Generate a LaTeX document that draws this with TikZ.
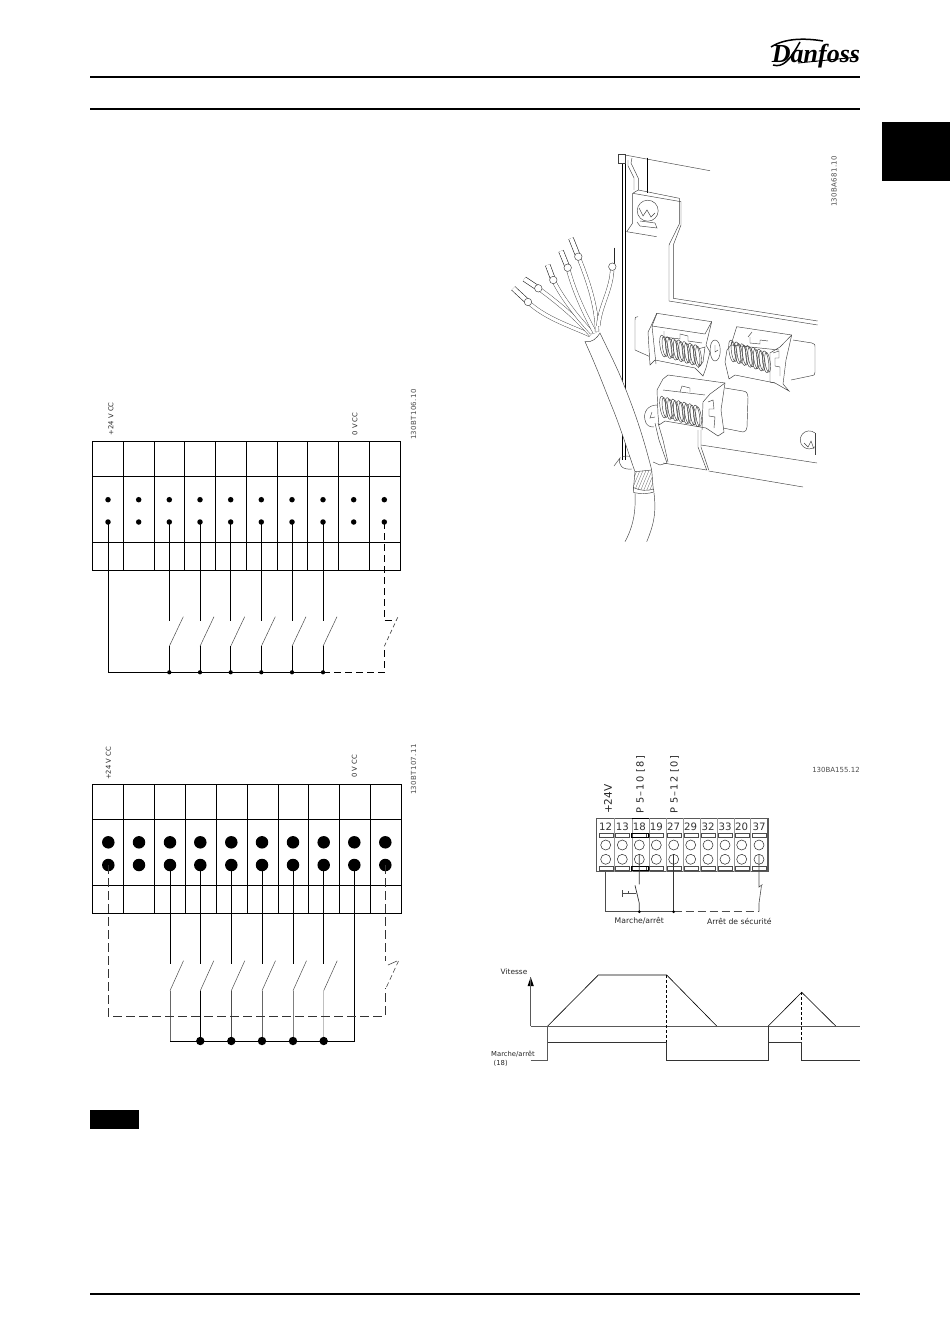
\documentclass[tikz,border=0pt]{standalone}
\usepackage{fontspec}
\setmainfont{DejaVu Sans}
\newfontfamily\logofont{Liberation Serif}
\newfontfamily\spacedfont[LetterSpace=12]{DejaVu Sans}
\newfontfamily\partfont[LetterSpace=5]{DejaVu Sans}
\tikzset{
  wire/.style={line width=0.9pt},
  blade/.style={line width=0.5pt,black!70},
  dashwire/.style={line width=0.9pt,dash pattern=on 7pt off 4pt},
  thinwire/.style={line width=0.6pt,dash pattern=on 9pt off 4pt,black!80},
  smalldot/.style={circle,fill=black,inner sep=0pt,minimum size=5.5pt},
  bigdot/.style={circle,fill=black,inner sep=0pt,minimum size=12.5pt},
  busdot/.style={circle,fill=black,inner sep=0pt,minimum size=4.2pt},
  bigbusdot/.style={circle,fill=black,inner sep=0pt,minimum size=8.4pt},
  screwhole/.style={circle,draw=black!80,line width=0.55pt,inner sep=0pt,minimum size=10pt},
  label/.style={inner sep=0pt,font=\fontsize{6.8}{8}\selectfont,black!85},
  vlabel/.style={label,rotate=90,anchor=west},
  partno/.style={label,font=\partfont\fontsize{7}{8}\selectfont,black!70},
  strip/.style={vlabel,font=\spacedfont\fontsize{9.8}{11}\selectfont},
  etch/.style={line width=0.45pt,black!75},
  core/.style={line width=0.45pt,black!70,double=white,double distance=3.2pt},
  tip/.style={line width=0.6pt,black!85,double=white,double distance=4.2pt},
  collar/.style={circle,draw=black!75,fill=white,line width=0.45pt,inner sep=0pt,minimum size=7.5pt},
  trace/.style={line width=0.6pt,black!65}
}
\begin{document}
\begin{tikzpicture}[x=1pt,y=-1pt]
\useasboundingbox (0,0) rectangle (950,1344);
\draw[line width=1.8pt] (90,77) -- (860,77);
\draw[line width=1.5pt] (90,109) -- (860,109);
\draw[line width=1.6pt] (90,1294) -- (860,1294);
\fill (882,122) rectangle (950,180.7);
\fill (90,1110) rectangle (139.3,1129.3);
% logo
\node[inner sep=0pt,anchor=base] (logo) at (816,62) {\logofont\itshape\bfseries\fontsize{26}{26}\selectfont Danfoss};
\draw[line width=1.5pt] (771,47) .. controls (785,38) and (805,38) .. (823,41);
\draw[line width=1.5pt] (773,65) .. controls (783,68) and (790,60) .. (800,42);
\draw[line width=0.9pt] (798,63) -- (858,57);
% first terminal block
\draw[wire] (92.3,441.7) rectangle (400.3,570.3);
\draw[wire] (92.3,476.3) -- (400.3,476.3) (92.3,542.3) -- (400.3,542.3);
\foreach \x in {123.3,154.3,184.7,215.3,246.3,277.3,307.7,338.3,369.3}
  \draw[wire] (\x,441.7) -- (\x,570.3);
\foreach \nm/\x in {1/108,2/138.7,3/169.3,4/200,5/230.7,6/261.3,7/292,8/323,9/353.7,10/384.3}{
  \node[smalldot] (pa\nm) at (\x,499.7) {};
  \node[smalldot] (pb\nm) at (\x,522) {};
}
\foreach \nm/\x in {3/169.3,4/200,5/230.7,6/261.3,7/292,8/323}{
  \coordinate (pup\nm) at (\x,620.7);
  \coordinate (plo\nm) at (\x,646.3);
  \coordinate (ptp\nm) at (\x+14,616.7);
  \node[busdot] (pbus\nm) at (\x,672.3) {};
  \draw[wire] (pb\nm.center) -- (pup\nm);
  \draw[blade] (plo\nm) -- (ptp\nm);
  \draw[wire] (plo\nm) -- (pbus\nm.center);
}
\coordinate (pcorner) at (108,672.3);
\coordinate (pswup) at (384.3,620.7);
\coordinate (pswlo) at (384.3,646.3);
\coordinate (pswtip) at (398,616.7);
\coordinate (pswtick) at (393,620.7);
\coordinate (pbusend) at (384.3,672.3);
\draw[wire] (pb1.center) -- (pcorner) -- (pbus8.center);
\draw[dashwire] (pb10.center) -- (pswup) -- (pswtick);
\draw[blade,dash pattern=on 4pt off 3pt,line width=0.7pt] (pswlo) -- (pswtip);
\draw[dashwire] (pbus8.center) -- (pbusend) -- (pswlo);
\node[vlabel] (lpos1) at (111,435.5) {+24 V CC};
\node[vlabel] (lzero1) at (355,435.5) {0 V CC};
\node[vlabel,partno] (part1) at (413.5,440) {130BT106.10};
% second terminal block
\draw[wire] (92.3,784.7) rectangle (401.7,913.3);
\draw[wire] (92.3,819.3) -- (401.7,819.3) (92.3,885.3) -- (401.7,885.3);
\foreach \x in {123.3,154.3,185.3,216.3,247.3,278.3,308.3,339.3,370.3}
  \draw[wire] (\x,784.7) -- (\x,913.3);
\foreach \nm/\x in {1/108.3,2/139,3/170,4/200.3,5/231.3,6/262,7/293,8/323.7,9/354.3,10/385.3}{
  \node[bigdot] (qa\nm) at (\x,842.3) {};
  \node[bigdot] (qb\nm) at (\x,865) {};
}
\foreach \nm/\x in {3/170,4/200.3,5/231.3,6/262,7/293,8/323.7}{
  \coordinate (qup\nm) at (\x,964.3);
  \coordinate (qlo\nm) at (\x,990.7);
  \coordinate (qtp\nm) at (\x+13.5,960.7);
  \coordinate (qbus\nm) at (\x,1041);
  \draw[wire] (qb\nm.center) -- (qup\nm);
  \draw[blade] (qlo\nm) -- (qtp\nm);
}
\coordinate (qend) at (354.3,1041);
\draw[wire,black!60] (qlo3) -- (qbus3) -- (qend);
\draw[wire,black!70] (qlo5) -- (qbus5);
\draw[wire,black!60] (qlo6) -- (qbus6);
\draw[wire,black!50] (qlo7) -- (qbus7);
\draw[wire,black!25] (qlo8) -- (qbus8);
\draw[wire] (qlo4) -- (qbus4);
\draw[wire] (qbus3) -- (qend) -- (qb9.center);
\foreach \nm in {4,5,6,7,8}
  \node[bigbusdot] (qdot\nm) at (qbus\nm) {};
\coordinate (qleft) at (108.3,1016);
\coordinate (qright) at (385.3,1016);
\coordinate (qswup) at (385.3,961);
\coordinate (qswlo) at (385.3,988);
\coordinate (qswa) at (386.5,987);
\coordinate (qswb) at (398.5,961);
\coordinate (qswc) at (388,965);
\coordinate (qswd) at (397,961);
\draw[thinwire] (qb1.center) -- (qleft) -- (qright) -- (qswlo);
\draw[thinwire] (qb10.center) -- (qswup);
\draw[blade,dash pattern=on 5pt off 3pt,line width=0.6pt] (qswa) -- (qswb);
\draw[blade,line width=0.6pt] (qswc) -- (qswd);
\node[vlabel] (lpos2) at (108.5,780) {+24 V CC};
\node[vlabel] (lzero2) at (354.5,778) {0 V CC};
\node[vlabel,partno] (part2) at (413.5,795) {130BT107.11};
% connection strip
\draw[line width=1.3pt,black!65] (596.7,818.3) rectangle (768,871.7);
\foreach \x in {614.3,631.7,648.7,665.7,683,700,717,734,750}
  \draw[line width=0.3pt,black!40] (\x,818.3) -- (\x,871.7);
\draw[line width=0.6pt,black] (631.7,818.3) -- (648.7,818.3);
\foreach \nm/\x in {12/605.7,13/622.3,18/639.3,19/656.3,27/673.7,29/690.7,32/708,33/725,20/741.7,37/759}{
  \node[inner sep=0pt,font=\fontsize{10.2}{11}\selectfont,black!80] (num\nm) at (\x,827) {\nm};
  \node[draw=black!70,line width=0.4pt,inner sep=0pt,minimum width=14pt,minimum height=4pt] (ra\nm) at (\x,835.3) {};
  \node[draw=black!70,line width=0.4pt,inner sep=0pt,minimum width=14pt,minimum height=4pt] (rb\nm) at (\x,868) {};
  \node[screwhole] (ca\nm) at (\x,845) {};
  \node[screwhole] (cb\nm) at (\x,859.3) {};
}
\draw[line width=0.9pt] (631.7,833.3) rectangle (648.7,837.3) (631.7,866) rectangle (648.7,870);
\coordinate (bleft) at (605.7,911.7);
\coordinate (bsw) at (639.3,911.7);
\coordinate (bmid) at (673.7,911.7);
\coordinate (bright) at (759,911.7);
\coordinate (swup) at (639.3,884.3);
\coordinate (swlo) at (639.3,903.3);
\coordinate (swtp) at (635,885.3);
\coordinate (stup) at (759,883.3);
\coordinate (stlo) at (759,903.3);
\coordinate (sttp) at (761.5,885.5);
\draw[line width=0.7pt,black!70] (605.7,871.7) -- (bleft) -- (bmid);
\draw[line width=0.7pt,black!70,dash pattern=on 8pt off 4pt] (bmid) -- (bright);
\draw[line width=0.7pt,black!80] (cb18.north) -- (swup) (swtp) -- (swlo) -- (bsw);
\draw[line width=0.7pt,black!80] (cb27.north) -- (bmid);
\draw[line width=0.6pt,black!70] (cb37.north) -- (stup) -- (759,887) -- (762.5,884.5);
\draw[line width=0.6pt,black!70] (sttp) -- (stlo) -- (bright);
\draw[line width=0.5pt,black!70] (622,890) -- (622,896.5) (622,893.2) -- (628,893.2) -- (628,890.5) (628,893.2) -- (636,893.2);
\node[busdot,minimum size=3pt] (bd1) at (bsw) {};
\node[busdot,minimum size=3pt] (bd2) at (bmid) {};
\node[label,font=\fontsize{7.7}{9}\selectfont] (lmarche) at (639.3,921) {Marche/arrêt};
\node[label,font=\fontsize{7.7}{9}\selectfont] (lsecu) at (739.3,921) {Arrêt de sécurité};
\node[vlabel,font=\fontsize{10.5}{11}\selectfont] (l24) at (608,814) {+24V};
\node[strip] (lp10) at (640.5,814) {P 5–10 [8]};
\node[strip] (lp12) at (674.5,814) {P 5–12 [0]};
\node[partno,font=\fontsize{7}{8}\selectfont] (part3) at (836,770) {130BA155.12};
% speed graph
\coordinate (axo) at (530.7,1026);
\coordinate (axy) at (530.7,977);
\coordinate (axx) at (860,1026);
\coordinate (ra) at (547.7,1026);
\coordinate (rb) at (598.3,975);
\coordinate (rc) at (666.7,975);
\coordinate (rd) at (716.7,1026);
\coordinate (ta) at (768.3,1026);
\coordinate (tb) at (801.7,992.3);
\coordinate (tc) at (835.7,1026);
\fill (axy) -- (533.8,986) -- (527.6,986) -- cycle;
\draw[trace] (axo) -- (axy);
\draw[trace] (axo) -- (axx);
\draw[line width=0.6pt] (ra) -- (rb) -- (rc) -- (rd);
\draw[line width=0.6pt] (ta) -- (tb) -- (tc);
\draw[line width=0.6pt,densely dashed] (rc) -- (666.7,1042.3);
\draw[line width=0.6pt,densely dashed] (tb) -- (801.7,1042.3);
\draw[trace] (530.7,1060) -- (547.7,1060) -- (ra);
\draw[line width=0.6pt,black!80] (547.7,1042.3) -- (666.7,1042.3) -- (666.7,1060) -- (768.3,1060) -- (ta);
\draw[line width=0.6pt,black!80] (768.3,1042.3) -- (801.7,1042.3) -- (801.7,1060) -- (860,1060);
\node[label,font=\fontsize{7.4}{8}\selectfont] (lvit) at (514,972) {Vitesse};
\node[label] (lcmd) at (513,1054) {Marche/arrêt};
\node[label,anchor=west] (l18) at (493.5,1063.5) {(18)};
% panel with clips
\draw[line width=0.7pt] (622,155) -- (622,460) (625.3,155) -- (625.3,460);
\draw[etch,fill=white] (618.3,154.3) rectangle (625,163.3);
\draw[etch] (625,155) -- (710,170.7);
\draw[line width=0.7pt] (647.3,157.7) -- (647.3,193.3);
\draw[etch] (628,160) -- (628,166) -- (634,178) -- (634,190);
\draw[etch] (632,158) -- (631,163) -- (638.3,178.3) -- (638.3,190);
\draw[etch] (638.3,190) -- (679.3,198.3) -- (679.3,224) -- (669,245) -- (669,301) -- (817.7,325);
\draw[etch] (632.7,193.3) -- (681,201.7) -- (681,225) -- (673.3,245) -- (673.3,298.3) -- (817.7,321);
\draw[etch] (632.7,193.3) -- (632.7,223) -- (626.7,231.7) -- (656.7,236.7);
\draw[etch] (638.3,190) -- (632.7,193.3);
\draw[etch] (647.7,210.7) circle[radius=10.5];
\draw[etch] (639,208) -- (643,216) -- (647,210) -- (651,217) -- (655,213);
\draw[etch] (637,222) -- (640,226) -- (657,228) -- (655,223) -- (640,221);
\draw[etch] (638,316.7) .. controls (635,317) .. (635,320) -- (635,350) -- (650,356.7);
\draw[etch] (793,340) -- (812,343) .. controls (815,344) .. (815,348) -- (815,372) .. controls (815,375) .. (810,376) -- (791,380);
\draw[etch] (725,388) -- (743,391) .. controls (747,392) .. (748,397) -- (747,427) .. controls (746,431) .. (743,432) -- (723,428);
\draw[etch] (715,340) .. controls (708,340) and (709,361) .. (715,361) .. controls (722,361) and (722,340) .. (715,340);
\draw[etch] (715,345) -- (715,352) -- (718,350);
% spring clips
\draw[etch,fill=white] (656.7,313.3) -- (711.7,321.7) -- (706,345) -- (710,352) -- (706,368) -- (703,376) -- (695,368) -- (655,360) -- (650,365) -- (648,332) -- (651,326) -- cycle;
\draw[etch] (652,326) -- (705,334) (711.7,321.7) -- (705,334) (657,313.3) -- (652,326) -- (656,364);
\draw[etch] (664,331) -- (664,337) -- (680,339) -- (680,334) -- (688,336) -- (688,341) -- (702,343);
\foreach \t in {0,1,2,3,4,5,6}{
  \draw[etch] (663+\t*5.6,346+\t*1.6) ellipse[x radius=3,y radius=11,rotate=8];
  \draw[etch] (665+\t*5.6,346.5+\t*1.6) ellipse[x radius=2.6,y radius=10,rotate=8];
}
\draw[etch] (698,349) -- (705,347) -- (703,362) -- (698,368);
\draw[etch,fill=white] (736.7,326.7) -- (791.7,335) -- (786,360) -- (783,384) -- (789,391) -- (775,383) -- (735,375) -- (729,379) -- (725,362) -- (727,350) -- (731,345) -- cycle;
\draw[etch] (731,345) -- (779,350) (791.7,335) -- (780,347) -- (770,353) -- (770,382) -- (775,383);
\draw[etch] (748,337) -- (752,332);
\draw[etch] (750,337) -- (750,343) -- (760,344) -- (760,340) -- (768,341);
\draw[etch] (773,353) -- (779,351) -- (779,358) -- (775,358) -- (775,366) -- (780,367) -- (780,376);
\foreach \t in {0,1,2,3,4,5,6}{
  \draw[etch] (732+\t*5.6,351+\t*1.8) ellipse[x radius=3,y radius=11,rotate=8];
  \draw[etch] (734+\t*5.6,351.5+\t*1.8) ellipse[x radius=2.6,y radius=10,rotate=8];
}
\draw[etch,fill=white] (668,375) -- (725,383) -- (721,410) -- (724,432) -- (718,436) -- (706,428) -- (665,421) -- (659,425) -- (658,415) -- (657,390) -- (663,379) -- cycle;
\draw[etch] (663,390) -- (705,395) (725,383) -- (710,394) -- (703,402) -- (702,430);
\draw[etch] (680,392) -- (682,386) -- (690,388) -- (690,392);
\draw[etch] (708,402) -- (713,400) -- (714,409) -- (709,409) -- (709,416) -- (715,417) -- (714,428);
\foreach \t in {0,1,2,3,4,5,6}{
  \draw[etch] (663+\t*5.6,407+\t*1.5) ellipse[x radius=3,y radius=11,rotate=8];
  \draw[etch] (665+\t*5.6,407.5+\t*1.5) ellipse[x radius=2.6,y radius=10,rotate=8];
}
% lower panel
\draw[etch] (657,405) .. controls (648,405) and (643,412) .. (645,420) .. controls (646,426) and (650,427) .. (654,427);
\draw[etch] (652,412) -- (650,418) -- (655,417);
\draw[etch] (655,423) -- (659,440) -- (667,463) -- (660,465) -- (653,462);
\draw[etch] (658,423) -- (663,440) -- (668,462);
\draw[etch] (698,430) -- (698,447) -- (706.7,470) -- (663,463);
\draw[etch] (701,430) -- (701,447) -- (708.7,470);
\draw[etch] (701,445) -- (817,463);
\draw[etch] (708.7,471) -- (803,487);
\draw[etch] (614,466) -- (620,458) .. controls (618,465) and (622,470) .. (632,469);
\draw[etch] (622,457) .. controls (626,455) and (632,456) .. (634,460);
\draw[etch] (815,433) arc[start angle=-50,end angle=-310,radius=9];
\draw[etch] (804,443) -- (808,447) -- (811,441) -- (814,449);
\draw[etch] (815,433) -- (815,455);
% cable with ferrules
\draw[core] (528,302) .. controls (545,318) and (570,326) .. (590,335);
\draw[core] (538.3,288.3) .. controls (560,304) and (578,320) .. (591,335);
\draw[core] (553.3,280) .. controls (563,300) and (580,320) .. (592,333);
\draw[core] (567.7,267.7) .. controls (575,295) and (587,318) .. (595,333);
\draw[core] (578.3,256.7) .. controls (590,285) and (597,310) .. (597,331.7);
\draw[core] (612.3,266.7) .. controls (612,290) and (600,305) .. (598.3,326);
\foreach \nm/\ax/\ay/\bx/\by in {a/513.3/288.3/528/302,b/524.3/279/538.3/288.3,c/547.7/265/553.3/280,d/561/251/567.7/267.7,e/571/238.3/578.3/256.7,f/612.3/247.7/612.3/266.7}{
  \draw[tip] (\ax,\ay) -- (\bx,\by);
  \node[collar] (fer\nm) at (\bx,\by) {};
}
\draw[etch,fill=white] (585,341.7) .. controls (598,370) and (607,395) .. (613.3,410) .. controls (622,432) and (629,455) .. (635,471.7) -- (651.7,470) .. controls (642,432) and (634,410) .. (623.3,383.3) .. controls (616,365) and (607,348) .. (600,333) .. controls (597,338) and (592,343) .. (585,341.7) -- cycle;
\begin{scope}
\clip (635,471.7) -- (651.7,470) -- (653.3,490) -- (633.3,490) -- cycle;
\foreach \s in {0,3,...,30}{
  \draw[line width=0.3pt,black!60] (628+\s,492) -- (638+\s,468);
}
\end{scope}
\draw[etch] (635,471.7) -- (633.3,490) (651.7,470) -- (653.3,490);
\draw[etch] (635,493) .. controls (635,500) and (637,520) .. (625,541.7);
\draw[etch] (654,493) .. controls (656,510) and (655,522) .. (646.7,541.7);
\draw[etch,fill=white] (633.3,487.5) .. controls (640,491) and (648,491) .. (653.5,489) -- (654,492) .. controls (648,494) and (640,494) .. (633.5,492.5) -- cycle;
\node[vlabel,partno] (part4) at (834,207) {130BA681.10};
\end{tikzpicture}
\end{document}
